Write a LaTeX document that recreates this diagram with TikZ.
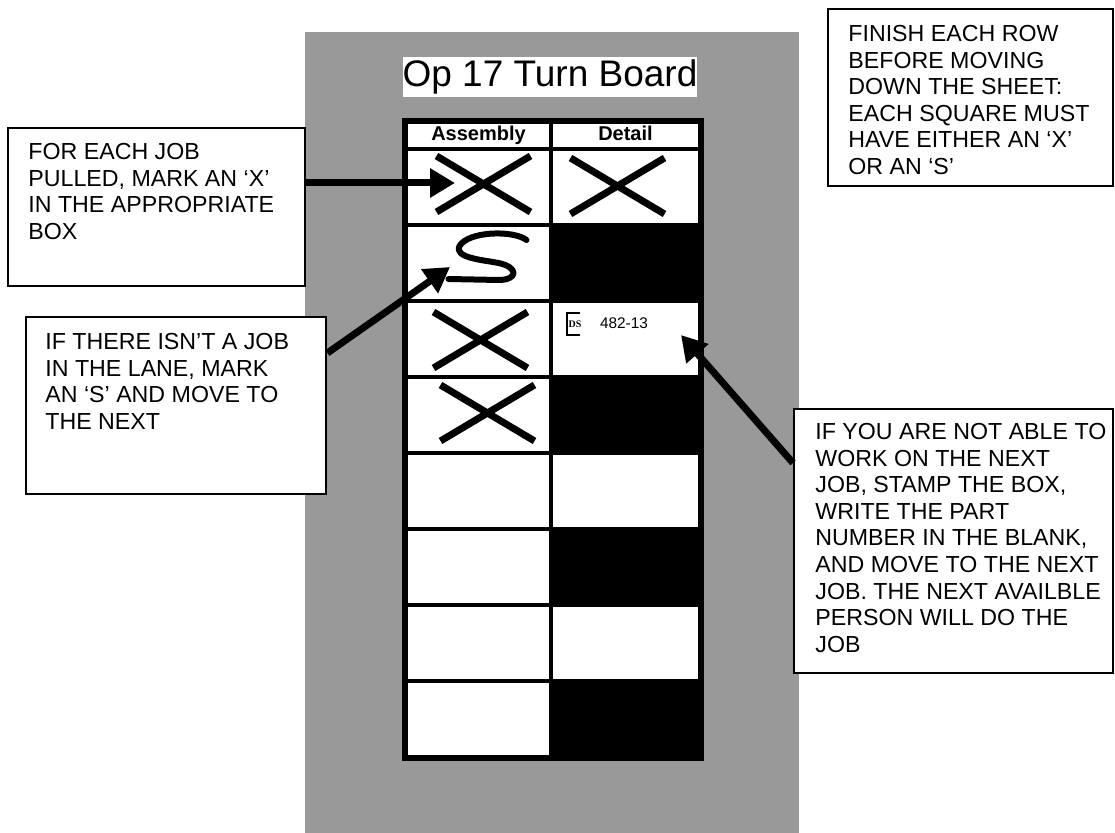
\documentclass[tikz,border=0pt]{standalone}
\usepackage{fontspec}
\setmainfont{Liberation Sans}
\newfontfamily\stampfont{Liberation Serif}
\usetikzlibrary{positioning,calc,arrows.meta}
\definecolor{boardgray}{gray}{0.6}
\newcommand{\crossbox}[3]{%
  \draw[crossline] ($(#1)+(#2-47,#3-28)$) -- ($(#1)+(#2+47,#3+28)$)
                   ($(#1)+(#2-47,#3+28)$) -- ($(#1)+(#2+47,#3-28)$);}

\begin{document}
\begin{tikzpicture}[x=0.5pt, y=-0.5pt,
    note/.style={draw, line width=1.2pt, fill=white, anchor=north west, inner sep=0pt},
    notetext/.style={align=left, inner sep=0pt, font=\fontsize{11.6}{13.3}\selectfont},
    cell/.style={draw, line width=1.8pt, fill=white, inner sep=0pt, minimum height=38pt},
    head/.style={cell, minimum height=13.5pt, text height=7.4pt, text depth=2pt,
                 font=\bfseries\fontsize{10}{11}\selectfont},
    crossline/.style={line width=3.5pt},
    pointer/.style={line width=3.5pt, -{Triangle[length=12.5pt,width=14pt]}}]
  \useasboundingbox (0,0) rectangle (1115,833);
  % board
  \fill[boardgray] (305,32) rectangle (799,833);
  \node[fill=white, minimum width=145pt, minimum height=20pt, inner sep=0pt,
        font=\fontsize{18.5}{20}\selectfont] (title) at (550,77) {Op 17 Turn Board};
  % table
  \node[head, minimum width=72.5pt] (a0) at (478.5,135.5) {Assembly};
  \node[head, minimum width=74.5pt] (d0) at (625.5,135.5) {Detail};
  \foreach \r in {1,...,8}{
    \ifodd\r \def\dfill{white}\else \def\dfill{black}\fi
    \node[cell, minimum width=72.5pt] (a\r) at (478.5,111+76*\r) {};
    \node[cell, minimum width=74.5pt, fill=\dfill] (d\r) at (625.5,111+76*\r) {};
  }
  \draw[line width=2.5pt] (a0.north west) rectangle (d8.south east);
  % marks
  \crossbox{a1}{5}{-3}
  \crossbox{d1}{-8}{-1}
  \crossbox{a3}{2}{1}
  \crossbox{a4}{9}{-2}
  \begin{scope}[shift={(a2.center)}]
    \draw[line width=3pt, line cap=round, line join=round]
      (48,-23) .. controls (35,-33) and (-10,-32) .. (-19,-17)
      .. controls (-25,-5) and (5,-3) .. (20,0)
      .. controls (40,4) and (40,17) .. (20,17) -- (-30,16);
  \end{scope}
  \draw[line width=1pt] (580,313) -| (567,335) -- (580,335);
  \node[font=\stampfont\bfseries\fontsize{5}{5}\selectfont, inner sep=0pt] (stamp) at (575,324) {DS};
  \node[font=\fontsize{7.7}{8}\selectfont, inner sep=0pt] (partno) at (624,323) {482-13};
  % notes
  \node[note, minimum width=148.5pt, minimum height=79pt] (note1) at (7,127) {};
  \node[notetext, below right=8pt and 10.5pt of note1.north west] (note1txt)
    {FOR EACH JOB\\PULLED, MARK AN ‘X’\\IN THE APPROPRIATE\\BOX};
  \node[note, minimum width=150pt, minimum height=88.5pt] (note2) at (25,316) {};
  \node[notetext, below right=8.5pt and 10pt of note2.north west] (note2txt)
    {IF THERE ISN’T A JOB\\IN THE LANE, MARK\\AN ‘S’ AND MOVE TO\\THE NEXT};
  \node[note, minimum width=142.5pt, minimum height=88.5pt] (note3) at (827,8) {};
  \node[notetext, below right=8.5pt and 10.5pt of note3.north west] (note3txt)
    {FINISH EACH ROW\\BEFORE MOVING\\DOWN THE SHEET:\\EACH SQUARE MUST\\HAVE EITHER AN ‘X’\\OR AN ‘S’};
  \node[note, minimum width=159.5pt, minimum height=132pt] (note4) at (793,408) {};
  \node[notetext, below right=7.5pt and 11pt of note4.north west] (note4txt)
    {IF YOU ARE NOT ABLE TO\\WORK ON THE NEXT\\JOB, STAMP THE BOX,\\WRITE THE PART\\NUMBER IN THE BLANK,\\AND MOVE TO THE NEXT\\JOB. THE NEXT AVAILBLE\\PERSON WILL DO THE\\JOB};
  % arrows
  \coordinate (xtip) at (455,183);
  \coordinate (stip) at (450,267);
  \coordinate (dstip) at (681,335);
  \draw[pointer] (note1.east |- xtip) -- (xtip);
  \draw[pointer] ($(note2.north east)+(0,37)$) -- (stip);
  \draw[pointer] ($(note4.north west)+(0,55)$) -- (dstip);
\end{tikzpicture}
\end{document}
